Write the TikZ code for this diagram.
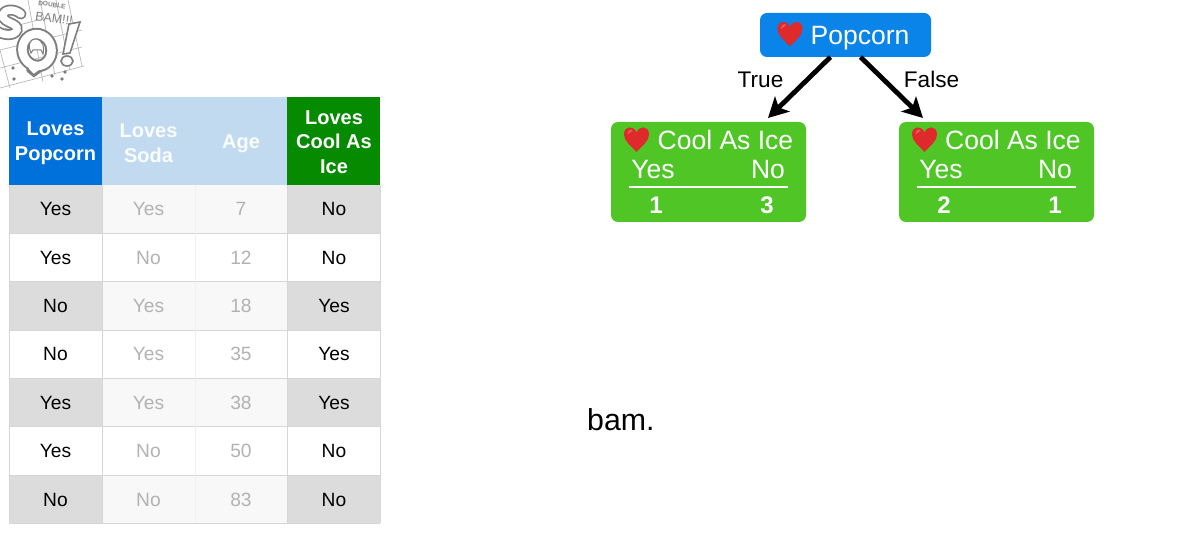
\documentclass[tikz,border=0pt]{standalone}
\usepackage{fontspec}
\setmainfont{Liberation Sans}
\usetikzlibrary{calc,arrows.meta}
\definecolor{hblue}{HTML}{0071DA}
\definecolor{hfade}{HTML}{C1DAF0}
\definecolor{hgreen}{HTML}{058A00}
\definecolor{rowgrey}{HTML}{DCDCDC}
\definecolor{rowfade}{HTML}{F8F8F8}
\definecolor{txtfade}{HTML}{B2B2B2}
\definecolor{nodeblue}{HTML}{0A84E8}
\definecolor{nodegreen}{HTML}{4FC626}
\definecolor{heart}{HTML}{DE2A2A}
\definecolor{sketch}{HTML}{7E7E7E}
\newcommand{\fs}[1]{\fontsize{#1}{#1}\selectfont}
\tikzset{
  x=1pt,y=-1pt,
  headcell/.style={draw=none,inner sep=0pt,outer sep=0pt,align=center,text=white,font=\fontsize{20}{24.5}\selectfont\bfseries},
  body/.style={font=\fs{19.2},inner sep=0pt,text=black},
  fade/.style={font=\fs{19.2},inner sep=0pt,text=txtfade},
  treelabel/.style={font=\fs{26.5},text=white,inner sep=0pt},
  count/.style={font=\fs{24}\bfseries,text=white,inner sep=0pt},
  box/.style={rounded corners=7pt,inner sep=0pt,outer sep=0pt},
  branch/.style={-{Stealth[length=20pt,width=21pt,inset=5pt]},line width=4.8pt,black},
  gridline/.style={draw=black!28,line width=.7pt},
  tablerule/.style={draw=black!16,line width=.8pt},
}
\newcommand{\heartat}[2]{%
  \fill[heart] (#1,#2+12.5) .. controls (#1-6,#2+6) and (#1-12.5,#2+1.5) .. (#1-12.5,#2-5)
    .. controls (#1-12.5,#2-14) and (#1-3,#2-14.5) .. (#1,#2-7)
    .. controls (#1+3,#2-14.5) and (#1+12.5,#2-14) .. (#1+12.5,#2-5)
    .. controls (#1+12.5,#2+1.5) and (#1+6,#2+6) .. (#1,#2+12.5) -- cycle;
  \fill[white,opacity=.25] (#1-9,#2-5) .. controls (#1-9,#2-9) and (#1-5,#2-11) .. (#1-4,#2-9)
    .. controls (#1-6,#2-8) and (#1-7,#2-6) .. (#1-9,#2-5) -- cycle;}
\begin{document}
\begin{tikzpicture}
\useasboundingbox (0,0) rectangle (1187,534);
% sketchy logo
\begin{scope}
\clip (0,0) rectangle (90,95);
\foreach \pa/\pb/\pc/\pd in {0/50/82/30, 0/68/82/47, 0/88/84/66, 28/0/43/82, 10/88/0/50, 55/75/40/0, 70/70/56/0, 82/66/68/0, 0/30/38/20}{
  \draw[gridline] (\pa,\pb) -- (\pc,\pd);}
% S
\draw[sketch,line width=11pt,line cap=round] (21,14) .. controls (14,8) and (3,9) .. (3,16) .. controls (3,23) and (19,23) .. (17,30) .. controls (15,36) and (4,36) .. (-3,31);
\draw[white,line width=7.5pt,line cap=round] (21,14) .. controls (14,8) and (3,9) .. (3,16) .. controls (3,23) and (19,23) .. (17,30) .. controls (15,36) and (4,36) .. (-3,31);
% Q
\draw[sketch,line width=5.5pt,line cap=round] (29,70) -- (34,74) -- (42,68);
\draw[sketch,line width=12.5pt,rotate around={12:(37,50)}] (37,50) circle[x radius=14.5,y radius=16];
\draw[white,line width=8.5pt,rotate around={12:(37,50)}] (37,50) circle[x radius=14.5,y radius=16];
\draw[white,line width=2.5pt,line cap=round] (30,68) -- (34,72) -- (41,67);
\draw[sketch,line width=1pt,fill=white] (31,53) .. controls (27,44) and (31,38) .. (36,39) .. controls (43,40) and (45,48) .. (43,54) -- (41,50) -- (33,50) -- cycle;
% exclamation mark
\draw[sketch,line width=1.6pt,fill=white] (69,24) -- (80,22) -- (70,53) -- (63,54) -- cycle;
\draw[sketch,line width=1.6pt,fill=white] (67,61) ellipse[x radius=6,y radius=5];
\node[rotate=-8,font=\fs{12.5},text=sketch,inner sep=0pt] (bamtxt) at (54,18.5) {BAM!!!};
\node[rotate=-8,font=\fs{6.5}\bfseries,text=sketch,inner sep=0pt] (dbltxt) at (52,5) {DOUBLE};
\foreach \pp/\pq in {13/68,14/79,52/76,65/72,62/79}{\fill[sketch] (\pp,\pq) circle[radius=1.8];}
\end{scope}
% table backgrounds
\fill[hblue] (9,97) rectangle (102,185);
\fill[hfade] (102,97) rectangle (287,185);
\fill[hgreen] (287,97) rectangle (380,185);
\foreach \tt/\uu in {185/233,281/330,378/426,475/523}{
  \fill[rowgrey] (9,\tt) rectangle (102,\uu);
  \fill[rowfade] (102,\tt) rectangle (287,\uu);
  \fill[rowgrey] (287,\tt) rectangle (380,\uu);
}
\foreach \ty in {233,281,330,378,426,475,523}{\draw[tablerule] (9,\ty) -- (380,\ty);}
\foreach \lx in {9,102,287,380}{\draw[tablerule] (\lx,185) -- (\lx,523);}
\draw[black!6,line width=.8pt] (195,185) -- (195,523);
% headers
\node[headcell] (h1) at (55.5,143) {Loves\\Popcorn};
\node[headcell,text=white!92!hfade] (h2) at (148.5,143) {Loves\\Soda};
\node[headcell,text=white!92!hfade] (h3) at (241,144) {Age};
\node[headcell] (h4) at (334,142) {Loves\\Cool As\\Ice};
% body
\foreach \nn/\yy/\va/\vb/\vc/\vd in {1/209/Yes/Yes/7/No,2/257.5/Yes/No/12/No,3/306/No/Yes/18/Yes,4/354/No/Yes/35/Yes,5/402.5/Yes/Yes/38/Yes,6/451/Yes/No/50/No,7/499.5/No/No/83/No}{
  \node[body] (a\nn) at (55.5,\yy) {\va};
  \node[fade] (b\nn) at (148.5,\yy) {\vb};
  \node[fade] (c\nn) at (241,\yy) {\vc};
  \node[body] (d\nn) at (334,\yy) {\vd};
}
% tree
\node[box,fill=nodeblue,minimum width=171pt,minimum height=44pt] (pop) at (845.5,35) {};
\node[box,fill=nodegreen,minimum width=195pt,minimum height=100pt] (cl) at (708.5,172) {};
\node[box,fill=nodegreen,minimum width=195pt,minimum height=100pt] (cr) at (996.5,172) {};
\heartat{790}{34}
\node[treelabel,anchor=west] (ptxt) at (810.5,38) {Popcorn};
\node[treelabel,anchor=west] (ltitle) at (657.5,140) {Cool As Ice};
\node[treelabel,anchor=west] (rtitle) at (945,140) {Cool As Ice};
\heartat{636.5}{139.5}
\heartat{924.5}{139.5}
\node[treelabel] (ly) at (653,170) {Yes};
\node[treelabel] (ln) at (768,170) {No};
\node[treelabel] (ry) at (941,170) {Yes};
\node[treelabel] (rn) at (1055,170) {No};
\draw[white,line width=2.2pt] ($(cl.west)+(17.5,15)$) -- ($(cl.east)+(-18,15)$);
\draw[white,line width=2.2pt] ($(cr.west)+(17.5,15)$) -- ($(cr.east)+(-18,15)$);
\node[count] (l1) at (656,205) {1};
\node[count] (l3) at (767,205) {3};
\node[count] (r2) at (944,205) {2};
\node[count] (r1) at (1055,205) {1};
\draw[branch] ($(pop.south)+(-15,0)$) -- ($(cl.north east)+(-38,-4)$);
\draw[branch] ($(pop.south)+(15,0)$) -- ($(cr.north west)+(24,-4)$);
\node[font=\fs{22.6},inner sep=0pt] (ltrue) at (760.5,79.5) {True};
\node[font=\fs{22.6},inner sep=0pt] (lfalse) at (931.5,79.5) {False};
\node[font=\fs{30.3},inner sep=0pt,anchor=west] (bam) at (587,420) {bam.};
\end{tikzpicture}
\end{document}
